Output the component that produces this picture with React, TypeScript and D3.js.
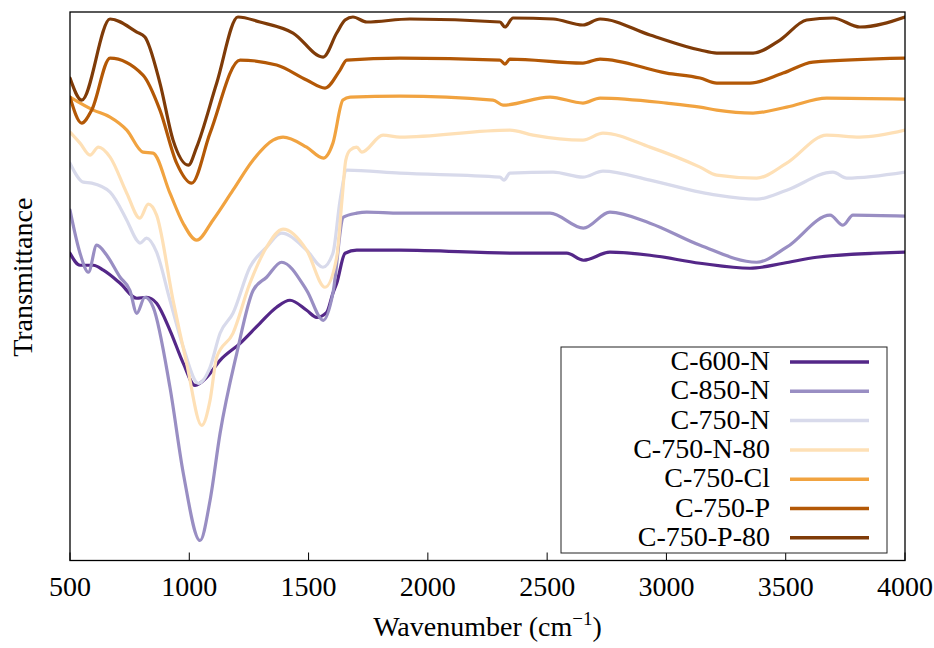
import React from "react";
import * as d3 from "d3";

// x-axis tick values (wavenumber, cm^-1)
const xTicks = [500, 1000, 1500, 2000, 2500, 3000, 3500, 4000];

const seriesNames = ["C-600-N", "C-850-N", "C-750-N", "C-750-N-80", "C-750-Cl", "C-750-P", "C-750-P-80"];
const seriesColors = ["#542788", "#998ec3", "#d8daeb", "#fee0b6", "#f1a340", "#b35806", "#7f3b08"];

// [wavenumber, transmittance (a.u., offset)]
const c600N: [number, number][] = [
  [500, 307], [542, 295], [598, 295], [640, 290], [710, 277], [780, 262], [821, 263], [863, 257],
  [919, 230], [975, 197], [1024, 175], [1073, 183], [1129, 200], [1213, 217], [1296, 237],
  [1366, 253], [1422, 260], [1492, 250], [1534, 243], [1576, 248], [1602, 267], [1618, 277],
  [1653, 307], [1702, 310], [1883, 310], [2372, 307], [2582, 307], [2652, 300], [2763, 308],
  [2931, 305], [3141, 297], [3350, 292], [3490, 297], [3630, 303], [4000, 308],
];
const c850N: [number, number][] = [
  [500, 350], [542, 307], [577, 288], [612, 315], [654, 305], [710, 283], [751, 270], [780, 247],
  [814, 263], [849, 253], [919, 173], [975, 87], [1045, 20], [1087, 60], [1129, 127], [1199, 207],
  [1268, 270], [1324, 283], [1387, 298], [1492, 270], [1562, 240], [1602, 267], [1646, 343],
  [1702, 347], [1744, 348], [1883, 347], [2512, 347], [2652, 332], [2763, 348], [2931, 337],
  [3141, 315], [3378, 298], [3504, 313], [3686, 345], [3740, 335], [3782, 345], [4000, 344],
];
const c750N: [number, number][] = [
  [500, 397], [556, 378], [591, 377], [668, 368], [738, 340], [780, 320], [793, 317], [821, 322],
  [863, 308], [919, 260], [975, 213], [1038, 177], [1087, 193], [1129, 227], [1183, 247],
  [1254, 293], [1324, 313], [1387, 327], [1492, 310], [1560, 293], [1602, 307], [1632, 360],
  [1660, 390], [1883, 387], [2302, 383], [2319, 380], [2344, 387], [2525, 388], [2650, 383],
  [2734, 389], [2931, 380], [3141, 368], [3211, 365], [3378, 361], [3504, 370], [3698, 388],
  [3756, 382], [4000, 388],
];
const c750N80: [number, number][] = [
  [500, 428], [542, 417], [584, 405], [619, 413], [668, 403], [738, 367], [793, 342], [828, 356],
  [863, 345], [932, 260], [989, 197], [1052, 135], [1087, 160], [1115, 203], [1183, 227],
  [1254, 277], [1324, 313], [1393, 331], [1492, 310], [1569, 273], [1618, 303], [1640, 360],
  [1656, 400], [1674, 410], [1702, 413], [1723, 408], [1812, 425], [1883, 423], [2344, 430],
  [2441, 425], [2650, 420], [2734, 427], [2931, 413], [3141, 393], [3211, 385], [3378, 382],
  [3504, 397], [3672, 425], [3811, 423], [4000, 430],
];
const c750Cl: [number, number][] = [
  [500, 463], [598, 450], [668, 443], [738, 430], [806, 408], [848, 407], [919, 367], [974, 337],
  [1031, 320], [1099, 340], [1183, 370], [1267, 400], [1351, 420], [1393, 423], [1492, 413],
  [1562, 402], [1602, 417], [1644, 460], [1674, 463], [1883, 464], [2273, 460], [2315, 455],
  [2512, 463], [2650, 457], [2722, 462], [3001, 457], [3141, 453], [3211, 450], [3363, 447],
  [3504, 453], [3672, 462], [4000, 461],
];
const c750P: [number, number][] = [
  [500, 463], [549, 437], [591, 450], [668, 502], [806, 485], [877, 450], [947, 397], [1010, 377],
  [1087, 427], [1213, 500], [1366, 495], [1492, 480], [1569, 472], [1632, 490], [1660, 500],
  [1883, 502], [2302, 500], [2323, 496], [2344, 501], [2650, 497], [2722, 501], [3001, 487],
  [3141, 482], [3211, 477], [3350, 477], [3489, 487], [3614, 498], [4000, 502],
];
const c750P80: [number, number][] = [
  [500, 482], [549, 460], [668, 541], [780, 528], [814, 523], [877, 477], [932, 420], [996, 395],
  [1031, 413], [1115, 477], [1204, 543], [1296, 538], [1435, 527], [1561, 503], [1618, 527],
  [1653, 540], [1686, 543], [1744, 538], [1925, 541], [2302, 538], [2323, 533], [2357, 542],
  [2525, 541], [2650, 535], [2722, 541], [2931, 525], [3141, 510], [3211, 507], [3363, 507],
  [3476, 520], [3588, 540], [3698, 542], [3811, 533], [4000, 543],
];

const allSeries = [c600N, c850N, c750N, c750N80, c750Cl, c750P, c750P80];

const W = 934;
const H = 648;
const M = { left: 70, right: 905, top: 12, bottom: 560.5 };
const FONT = "'Liberation Serif', 'Times New Roman', serif";

export default function App() {
  const x = d3.scaleLinear().domain([500, 4000]).range([M.left, M.right]);
  const y = d3.scaleLinear().domain([0, 548]).range([M.bottom, M.top]);
  const line = d3
    .line<[number, number]>()
    .x((d) => x(d[0]))
    .y((d) => y(d[1]))
    .curve(d3.curveMonotoneX);

  const legX = 561, legY = 347, legW = 326, legH = 206;
  const rowH = 29.3;

  return (
    <svg width={W} height={H} style={{ position: "absolute", left: 0, top: 0, background: "#fff" }}>
      <defs>
        <clipPath id="plot">
          <rect x={M.left} y={M.top} width={M.right - M.left} height={M.bottom - M.top} />
        </clipPath>
      </defs>
      <rect x={0} y={0} width={W} height={H} fill="#fff" />
      <g clipPath="url(#plot)">
        {allSeries.map((s, i) => (
          <path key={i} d={line(s) || ""} fill="none" stroke={seriesColors[i]} strokeWidth={3.2}
            strokeLinejoin="round" strokeLinecap="round" />
        ))}
      </g>
      {/* frame */}
      <rect x={M.left} y={M.top} width={M.right - M.left} height={M.bottom - M.top}
        fill="none" stroke="#000" strokeWidth={1.3} />
      {/* x ticks */}
      {xTicks.map((t) => (
        <g key={t}>
          <line x1={x(t)} x2={x(t)} y1={M.bottom} y2={M.bottom - 8} stroke="#000" strokeWidth={1} />
          <text x={x(t)} y={596} textAnchor="middle" fontFamily={FONT} fontSize={28} fill="#000">
            {t}
          </text>
        </g>
      ))}
      <text x={(M.left + M.right) / 2} y={636} textAnchor="middle" fontFamily={FONT} fontSize={28} fill="#000">
        Wavenumber (cm<tspan dy={-11} fontSize={19}>−1</tspan><tspan dy={11}>)</tspan>
      </text>
      <text transform={`translate(32, ${(M.top + M.bottom) / 2 - 9}) rotate(-90)`} textAnchor="middle"
        fontFamily={FONT} fontSize={28} fill="#000">
        Transmittance
      </text>
      {/* legend */}
      <rect x={legX} y={legY} width={legW} height={legH} fill="#fff" stroke="#222" strokeWidth={1} />
      {seriesNames.map((n, i) => {
        const by = 370 + i * rowH;
        return (
          <g key={n}>
            <text x={770} y={by} textAnchor="end" fontFamily={FONT} fontSize={28} fill="#000">{n}</text>
            <line x1={790} x2={869} y1={by - 8} y2={by - 8} stroke={seriesColors[i]} strokeWidth={3.5} />
          </g>
        );
      })}
    </svg>
  );
}
